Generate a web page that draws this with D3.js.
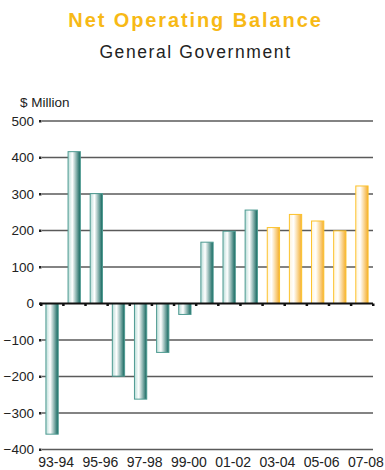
<!DOCTYPE html>
<html>
<head>
<meta charset="utf-8">
<script src="https://cdn.jsdelivr.net/npm/d3@7"></script>
<style>
  html, body { margin: 0; padding: 0; background: #fff; }
  svg { display: block; font-family: "Liberation Sans", Arial, sans-serif; }
</style>
</head>
<body>
<svg id="chart" width="385" height="470"></svg>
<script>
// Net operating balance, general government ($ million)
const years = ["93-94","94-95","95-96","96-97","97-98","98-99","99-00","00-01",
               "01-02","02-03","03-04","04-05","05-06","06-07","07-08"];
const balance = [-358, 416, 301, -199, -262, -134, -30, 168, 198, 256, 208, 244, 226, 199, 322];
// Last five years are estimates/projections, drawn in orange
const estimateFrom = "03-04";
const yTicks = [500, 400, 300, 200, 100, 0, -100, -200, -300, -400];
const xLabels = ["93-94","95-96","97-98","99-00","01-02","03-04","05-06","07-08"];

const svg = d3.select("#chart");
const plot = { left: 41, right: 373, top: 121, bottom: 449.5 };

const x = d3.scaleBand().domain(years).range([plot.left, plot.right]).paddingInner(0.4).paddingOuter(0.2);
const y = d3.scaleLinear().domain([-400, 500]).range([plot.bottom, plot.top]);

const defs = svg.append("defs");
function grad(id, light, dark) {
  const g = defs.append("linearGradient").attr("id", id)
    .attr("x1", "0%").attr("x2", "100%").attr("y1", "0%").attr("y2", "0%");
  g.append("stop").attr("offset", "0%").attr("stop-color", light);
  g.append("stop").attr("offset", "35%").attr("stop-color", "#ffffff");
  g.append("stop").attr("offset", "100%").attr("stop-color", dark);
}
grad("gTeal", "#b9dcd7", "#0f635b");
grad("gOrange", "#fff4dc", "#f4ad2c");

// Titles
svg.append("text").attr("x", 195.5).attr("y", 27).attr("text-anchor", "middle")
  .attr("font-size", 20).attr("font-weight", "bold").attr("letter-spacing", 1.9)
  .attr("fill", "#f7b916").text("Net Operating Balance");
svg.append("text").attr("x", 195.5).attr("y", 58).attr("text-anchor", "middle")
  .attr("font-size", 17.5).attr("letter-spacing", 1.6).attr("fill", "#222")
  .text("General Government");
svg.append("text").attr("x", 20).attr("y", 106.5).attr("font-size", 13.5)
  .attr("fill", "#222").text("$ Million");

// Gridlines
svg.append("g").selectAll("line").data(yTicks.filter(d => d !== 0)).join("line")
  .attr("x1", plot.left + 1).attr("x2", plot.right)
  .attr("y1", d => y(d)).attr("y2", d => y(d))
  .attr("stroke", "#5a5a5a").attr("stroke-width", 1.4);

// Y axis: labels and small square tick marks
const yAxis = d3.axisLeft(y).tickValues(yTicks).tickSize(0).tickPadding(6);
const ya = svg.append("g").attr("transform", `translate(${plot.left - 1},0)`).call(yAxis);
ya.select(".domain").remove();
ya.selectAll("text").attr("font-size", 13.5).attr("fill", "#222")
  .attr("font-family", "Liberation Sans, Arial, sans-serif");
svg.append("g").selectAll("rect").data(yTicks).join("rect")
  .attr("x", plot.left - 2).attr("y", d => y(d) - 1).attr("width", 2.5).attr("height", 2.5)
  .attr("fill", "#222");

// Bars
const isEst = d => years.indexOf(d) >= years.indexOf(estimateFrom);
const rows = years.map((yr, i) => ({ yr, v: balance[i] }));
svg.append("g").selectAll("rect").data(rows).join("rect")
  .attr("x", d => x(d.yr) + 0.5)
  .attr("y", d => y(Math.max(0, d.v)))
  .attr("width", x.bandwidth() - 1)
  .attr("height", d => Math.abs(y(d.v) - y(0)))
  .attr("fill", d => isEst(d.yr) ? "url(#gOrange)" : "url(#gTeal)")
  .attr("stroke", d => isEst(d.yr) ? "#fcc22c" : "#4f9b92")
  .attr("stroke-width", 1);

// Zero line with category tick marks below
svg.append("line").attr("x1", plot.left - 1).attr("x2", plot.right)
  .attr("y1", y(0)).attr("y2", y(0)).attr("stroke", "#111").attr("stroke-width", 2);
const bounds = years.map(d => x(d) - x.step() * x.paddingInner() / 2).concat([plot.right]);
bounds[0] = plot.left;
svg.append("g").selectAll("rect").data(bounds).join("rect")
  .attr("x", d => d - 1).attr("y", y(0)).attr("width", 2.5).attr("height", 2.5)
  .attr("fill", "#111");

// X labels
svg.append("g").selectAll("text").data(xLabels).join("text")
  .attr("x", d => x(d) + x.bandwidth() / 2 + 4).attr("y", 467)
  .attr("text-anchor", "middle").attr("font-size", 14).attr("fill", "#222")
  .text(d => d);
</script>
</body>
</html>
